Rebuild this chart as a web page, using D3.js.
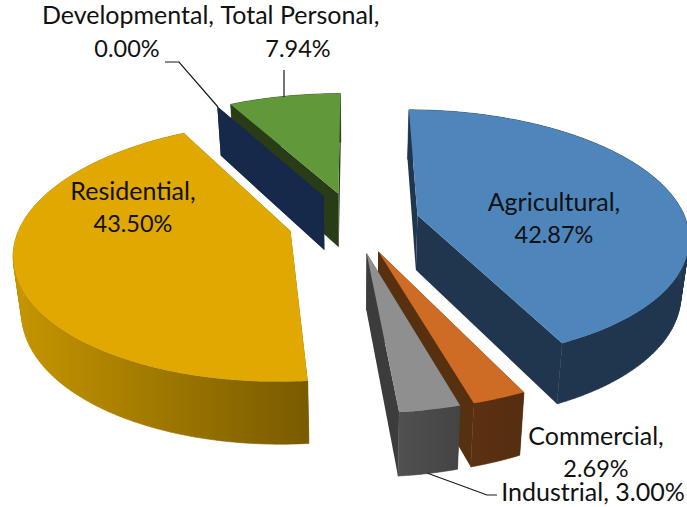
<!DOCTYPE html>
<html>
<head>
<meta charset="utf-8">
<style>html,body{margin:0;padding:0;background:#fff;overflow:hidden}svg{display:block}</style>
<script src="https://cdn.jsdelivr.net/npm/d3@7/dist/d3.min.js"></script>
</head>
<body>
<div id="chart"></div>
<script>
const categories = ["Agricultural", "Commercial", "Industrial", "Residential", "Developmental", "Total Personal"];
const shares = [42.87, 2.69, 3.00, 43.50, 0.00, 7.94];
const percentLabels = ["42.87%", "2.69%", "3.00%", "43.50%", "0.00%", "7.94%"];
const topColors = ["#4E86BC", "#CE6C25", "#8F8F8F", "#E0A800", "#16294A", "#619839"];
const wallColors = ["#20364E", "#57300F", "#3C3C3C", "#7A5C00", "#16294A", "#283D17"];
const rimColors = [["#20364E", "#20364E"], ["#5C3211", "#552D10"], ["#505050", "#444444"], ["#C49400", "#795B00"], ["#16294A", "#16294A"], ["#283D17", "#283D17"]];
const paintOrder = [5, 4, 0, 3, 1, 2];

const W = 687, H = 507;
const explode = 0.244, perspective = 0.157, depth = 55;
const x = d3.scaleLinear().domain([-1, 1]).range([354 - 269, 354 + 269]);
const y = d3.scaleLinear().domain([-1, 1]).range([222 - 124, 222 + 124]);

const pie = d3.pie().sort(null).value(d => d);
const arcs = pie(shares);

function project(X, Y, bottom) {
  const s = 1 / (1 - perspective * Y);
  let px = x(X * s), py = y(Y * s);
  if (bottom) {
    px = x(0) + (px - x(0)) * 0.975;
    py += depth * Math.pow(s, 0.7);
  }
  return [px, py];
}

function sliceGeometry(a) {
  const mid = (a.startAngle + a.endAngle) / 2;
  const ox = explode * Math.sin(mid), oy = -explode * Math.cos(mid);
  const n = Math.max(1, Math.ceil((a.endAngle - a.startAngle) / (Math.PI / 180)));
  const angles = d3.range(n + 1).map(i => a.startAngle + (a.endAngle - a.startAngle) * i / n);
  const rim = bottom => angles.map(t => project(ox + Math.sin(t), oy - Math.cos(t), bottom));
  return {
    apexTop: project(ox, oy, false),
    apexBottom: project(ox, oy, true),
    rimTop: rim(false),
    rimBottom: rim(true)
  };
}

const svg = d3.select("#chart").append("svg").attr("width", W).attr("height", H);
const line = d3.line();
const closed = pts => line(pts) + "Z";

const defs = svg.append("defs");
rimColors.forEach((c, i) => {
  const [x1, x2] = i === 3 ? [20, 307] : i === 1 ? [460, 523] : [398, 460];
  const g = defs.append("linearGradient").attr("id", "rim" + i)
    .attr("gradientUnits", "userSpaceOnUse")
    .attr("x1", x1).attr("x2", x2).attr("y1", 0).attr("y2", 0);
  g.append("stop").attr("offset", 0).attr("stop-color", c[0]);
  g.append("stop").attr("offset", 1).attr("stop-color", c[1]);
});

const slices = svg.append("g").selectAll("g").data(paintOrder).join("g")
  .attr("class", i => "slice " + categories[i]);

slices.each(function (i) {
  const g = d3.select(this), geo = sliceGeometry(arcs[i]);
  const last = geo.rimTop.length - 1;
  g.append("path")
    .attr("d", closed([geo.apexTop, geo.rimTop[0], geo.rimBottom[0], geo.apexBottom]))
    .attr("fill", wallColors[i]);
  g.append("path")
    .attr("d", closed([geo.apexTop, geo.rimTop[last], geo.rimBottom[last], geo.apexBottom]))
    .attr("fill", wallColors[i]);
  if (shares[i] > 0) {
    // the curved outer wall, one strip per sampled angle so its outline stays a true union
    const strips = d3.range(last).map(k => closed([geo.rimTop[k], geo.rimTop[k + 1], geo.rimBottom[k + 1], geo.rimBottom[k]]));
    g.append("path")
      .attr("d", strips.join(""))
      .attr("fill", `url(#rim${i})`)
      .attr("fill-rule", "nonzero")
      .attr("stroke", `url(#rim${i})`)
      .attr("stroke-width", 0.6);
    g.append("path")
      .attr("d", closed([geo.apexTop].concat(geo.rimTop)))
      .attr("fill", topColors[i]);
  }
});

const leaders = [
  [[165, 62], [179, 62], [218, 107]],
  [[284, 70], [284, 97]],
  [[427, 473], [487, 495], [497, 495]]
];
svg.append("g").selectAll("path").data(leaders).join("path")
  .attr("d", d => line(d)).attr("fill", "none")
  .attr("stroke", "#1a1a1a").attr("stroke-width", 1.2);

const labelLayout = [
  { lines: [[0, 554, 211], [1, 554, 243]] },
  { lines: [[0, 596, 445], [1, 596, 477]] },
  { lines: [[2, 593, 501]], inline: true },
  { lines: [[0, 133, 200], [1, 133, 232]] },
  { lines: [[0, 128, 24], [1, 127, 57]] },
  { lines: [[0, 300, 24], [1, 298, 57]] }
];
const labels = svg.append("g").attr("font-family", "Lato, 'Open Sans', sans-serif")
  .attr("font-size", 25).attr("fill", "#111").attr("text-anchor", "middle");
labelLayout.forEach((l, i) => {
  l.lines.forEach(([kind, lx, ly]) => {
    const txt = l.inline ? `${categories[i]}, ${percentLabels[i]}`
      : kind === 0 ? categories[i] + "," : percentLabels[i];
    labels.append("text").attr("x", lx).attr("y", ly)
      .attr("font-size", kind === 1 ? 23.5 : 25).text(txt);
  });
});
</script>
</body>
</html>
